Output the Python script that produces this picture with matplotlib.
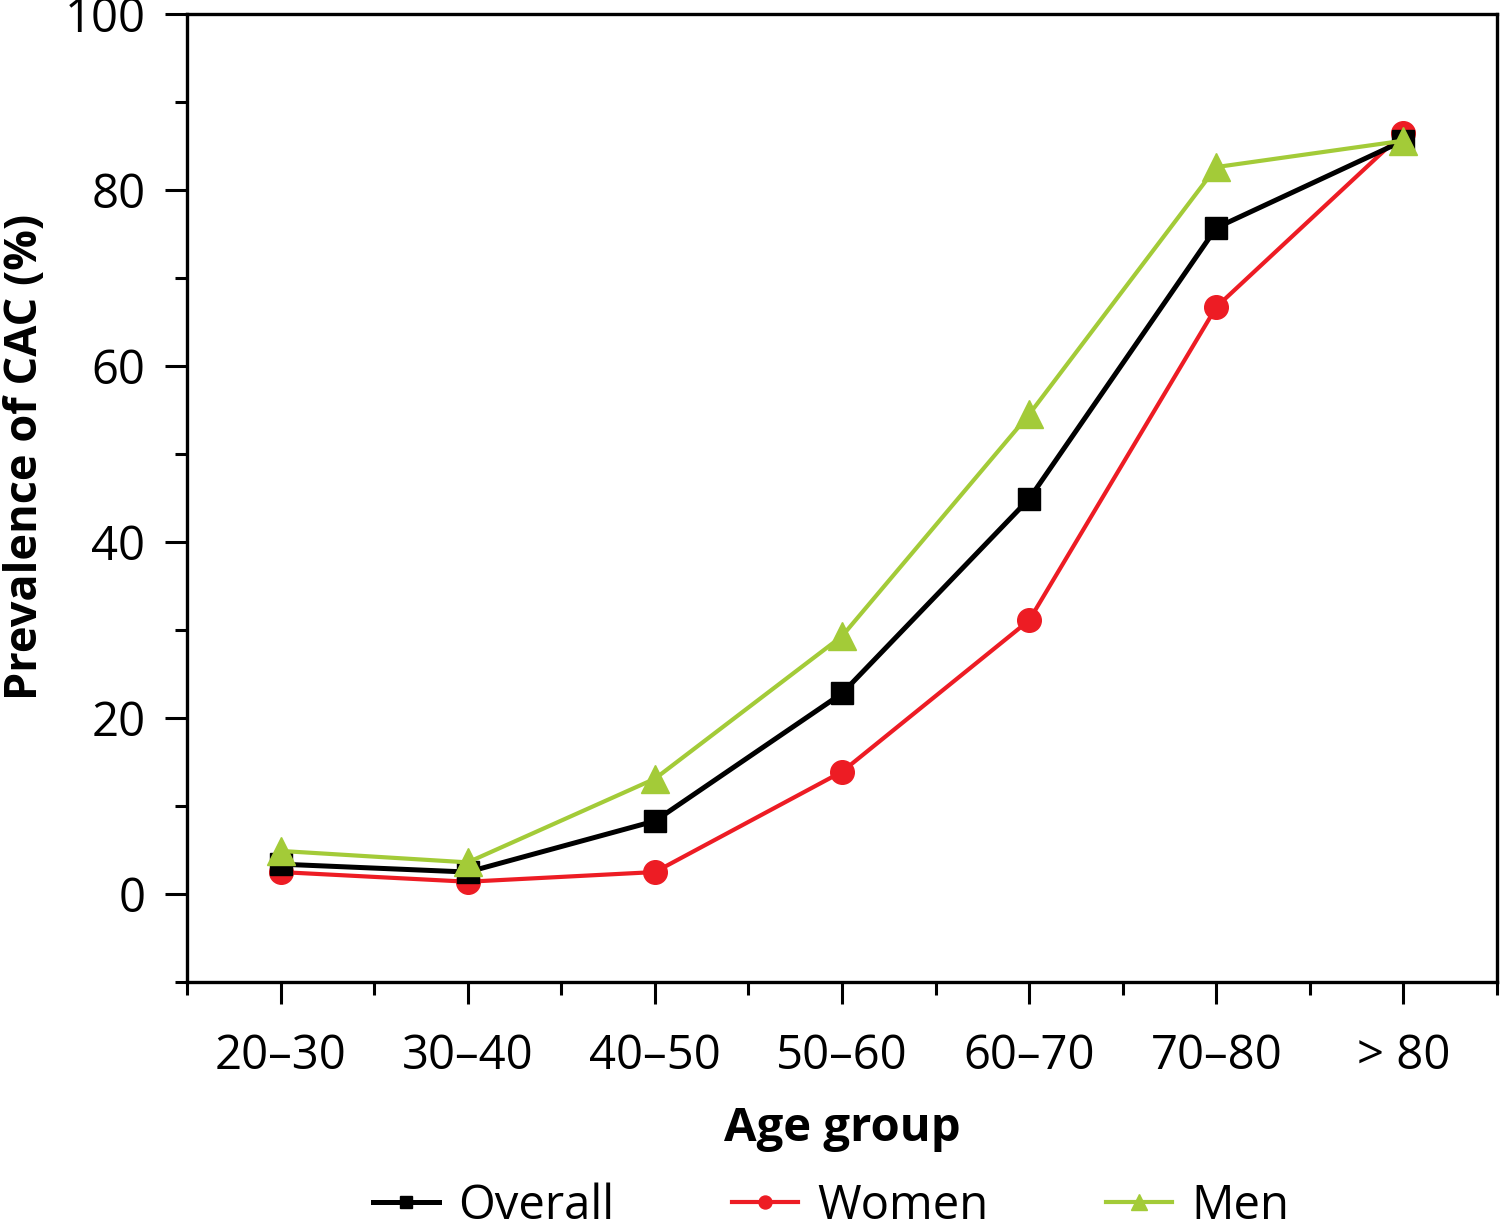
import matplotlib
matplotlib.use("Agg")
import matplotlib.pyplot as plt

# Datos
age_groups = ["20–30", "30–40", "40–50", "50–60", "60–70", "70–80", "> 80"]
overall = [3.4, 2.5, 8.3, 22.8, 44.9, 75.7, 85.6]
women = [2.5, 1.4, 2.5, 13.9, 31.1, 66.7, 86.5]
men = [4.9, 3.6, 13.1, 29.3, 54.5, 82.6, 85.6]

plt.rcParams["font.family"] = ["Open Sans", "DejaVu Sans"]

fig = plt.figure(figsize=(15, 12.23), dpi=100)
ax = fig.add_axes([0.1247, 0.197, 0.8733, 0.7916])

x = list(range(len(age_groups)))
ax.plot(x, overall, color="black", lw=3.6, marker="s", ms=15.5, label="Overall", zorder=3)
ax.plot(x, women, color="#ED1C24", lw=3.0, marker="o", ms=17, label="Women", zorder=2)
ax.plot(x, men, color="#A3CB38", lw=3.0, marker="^", ms=20, label="Men", zorder=4)

ax.set_xlim(-0.5, 6.5)
ax.set_ylim(-10, 100)
ax.set_xticks(x)
ax.set_xticklabels(age_groups)
ax.set_xticks([i + 0.5 for i in range(-1, 7)], minor=True)
ax.set_yticks(range(0, 101, 20))
ax.set_yticks(range(-10, 100, 20), minor=True)

for s in ax.spines.values():
    s.set_linewidth(2.4)
ax.tick_params(which="major", length=16, width=2.2, labelsize=34, pad=14)
ax.tick_params(which="minor", length=9, width=2.2)
ax.tick_params(axis="x", which="major", pad=20)

ax.set_xlabel("Age group", fontsize=34, fontweight="bold", labelpad=18)
ax.set_ylabel("Prevalence of CAC (%)", fontsize=32.5, fontweight="bold")
ax.yaxis.set_label_coords(-0.106, 0.542)

fig.legend(loc="center", bbox_to_anchor=(0.554, 0.014), ncol=3, frameon=False,
           fontsize=34, markerscale=0.55, handlelength=1.4, columnspacing=2.5,
           handletextpad=0.4)

fig.savefig("out.png", dpi=100)
